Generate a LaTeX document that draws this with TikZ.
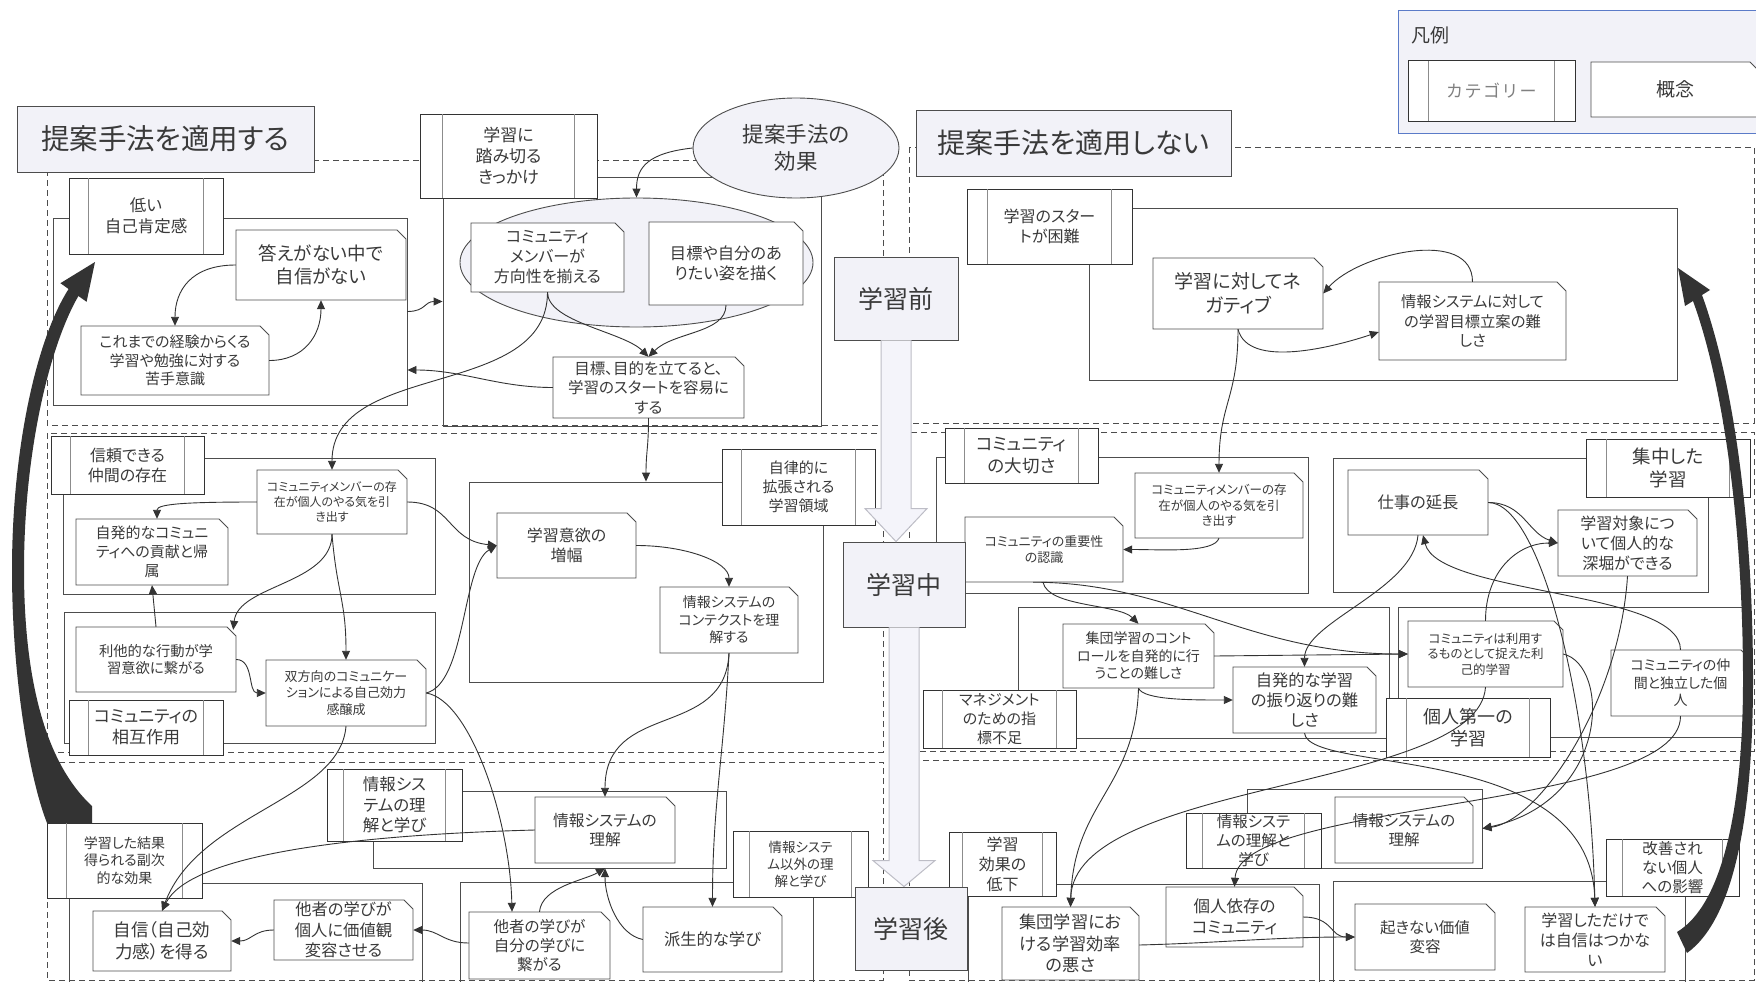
\documentclass[tikz,border=0pt]{standalone}
\usepackage{fontspec}
\setmainfont{Noto Sans CJK JP}[RawFeature=+palt]
\usetikzlibrary{arrows.meta,shapes.geometric,calc}

\definecolor{ln}{HTML}{4D4D4D}
\definecolor{txt}{HTML}{3A3A3A}
\definecolor{lav}{HTML}{F2F2F8}
\definecolor{shaft}{HTML}{F4F4FA}
\definecolor{shaftln}{HTML}{BDBDC6}
\definecolor{legln}{HTML}{5B7BC8}
\definecolor{catgray}{HTML}{8C8C8C}
\definecolor{dark}{HTML}{333333}

% font size with a 1.25 baseline
\newcommand\fsz[1]{\fontsize{#1}{\the\dimexpr #1pt*5/4\relax}\selectfont}

\tikzset{
  lane/.style={draw=ln, line width=0.9pt, dash pattern=on 6pt off 4pt},
  grp/.style={draw=ln, line width=0.9pt, rectangle, inner sep=0pt},
  cptline/.style={draw=ln, fill=white, line width=0.9pt},
  cpttext/.style={rectangle, inner sep=0pt, align=center, text=txt},
  catline/.style={draw=dark, fill=white, line width=1pt},
  catbar/.style={draw=catgray, line width=0.9pt},
  cattext/.style={rectangle, inner sep=0pt, align=center, text=txt},
  headbox/.style={rectangle, draw=ln, fill=lav, line width=0.9pt, inner sep=0pt, text=txt, align=center},
  conn/.style={draw=dark, line width=0.9pt, -{Triangle[length=9pt,width=8pt]}},
  bigarr/.style={fill=shaft, draw=shaftln, line width=1pt},
  thickarr/.style={fill=dark, draw=none},
}

% node filling the box (x1,y1)-(x2,y2)
\newcommand\place[7][]{\node[#1,minimum width={(#5-#3)*1pt},minimum height={(#6-#4)*1pt}] (#2) at ({(#3+#5)/2},{(#4+#6)/2}) {#7};}
% concept: box with a cut top-right corner
\newcommand\cpt[7][]{%
  \filldraw[cptline] (#3,#4) -- (#5-9,#4) -- (#5,#4+9) -- (#5,#6) -- (#3,#6) -- cycle;
  \place[cpttext,#1]{#2}{#3}{#4}{#5}{#6}{#7}}
% category: box with two side bars
\newcommand\cat[7][]{%
  \filldraw[catline] (#3,#4) rectangle (#5,#6);
  \draw[catbar] ({#3+(#5-#3)/8},#4) -- ({#3+(#5-#3)/8},#6) ({#5-(#5-#3)/8},#4) -- ({#5-(#5-#3)/8},#6);
  \place[cattext,#1]{#2}{#3}{#4}{#5}{#6}{#7}}

\begin{document}
\begin{tikzpicture}[x=1pt,y=-1pt]
\useasboundingbox (0,0) rectangle (1756,982);
\fill[white] (0,0) rectangle (1756,982);

% ---- swim lanes
\draw[lane] (47,160) rectangle (883,425);
\draw[lane] (909,147) rectangle (1754,423);
\draw[lane] (47,433) rectangle (883,752);
\draw[lane] (909,432) rectangle (1754,751);
\draw[lane] (47,762) rectangle (883,980);
\draw[lane] (909,760) rectangle (1754,980);

% ---- category groups
\place[grp]{gA}{53}{218}{407}{405}{}
\place[grp]{gB}{443}{177}{821}{426}{}
\place[grp]{gC}{1089}{208}{1677}{380}{}
\place[grp]{gD}{63}{458}{435}{594}{}
\place[grp]{gE}{64}{612}{435}{743}{}
\place[grp]{gF}{469}{482}{823}{682}{}
\place[grp]{gG}{936}{457}{1308}{593}{}
\place[grp]{gH}{1018}{607}{1389}{738}{}
\place[grp]{gI}{1333}{458}{1708}{592}{}
\place[grp]{gJ}{1398}{607}{1750}{737}{}
\place[grp]{gK}{69}{883}{422}{995}{}
\place[grp]{gL}{373}{791}{726}{868}{}
\place[grp]{gM}{460}{882}{813}{995}{}
\place[grp]{gN}{968}{884}{1319}{995}{}
\place[grp]{gO}{1247}{789}{1482}{868}{}
\place[grp]{gP}{1333}{881}{1685}{995}{}

\node[ellipse, draw=ln, fill=lav, line width=0.9pt, inner sep=0pt, minimum width=353pt, minimum height=129pt] (E2) at (636.5,262.5) {};

% ---- categories
\cat[font=\fsz{16.5}]{cA}{69}{178}{223}{254}{低い\\自己肯定感}
\cat[font=\fsz{17}]{cB}{420}{114}{597}{198}{学習に\\踏み切る\\きっかけ}
\cat[font=\fsz{16}]{cC}{967}{189}{1132}{264}{学習のスター\\トが困難}
\cat[font=\fsz{16}]{cD}{51}{436}{204}{494}{信頼できる\\仲間の存在}
\cat[font=\fsz{17}]{cE}{69}{700}{223}{755}{コミュニティの\\相互作用}
\cat[font=\fsz{15}]{cF}{722}{449}{875}{525}{自律的に\\拡張される\\学習領域}
\cat[font=\fsz{17.5}]{cG}{945}{428}{1098}{483}{コミュニティ\\の大切さ}
\cat[font=\fsz{15}]{cH}{923}{690}{1076}{748}{マネジメント\\のための指\\標不足}
\cat[font=\fsz{18.5}]{cI}{1586}{439}{1750}{497}{集中した\\学習}
\cat[font=\fsz{18}]{cJ}{1386}{698}{1550}{757}{個人第一の\\学習}
\cat[font=\fsz{14}]{cK}{47}{823}{202}{898}{学習した結果\\得られる副次\\的な効果}
\cat[font=\fsz{16.5}]{cL}{327}{769}{462}{841}{情報シス\\テムの理\\解と学び}
\cat[font=\fsz{13.5}]{cM}{733}{831}{868}{897}{情報システ\\ム以外の理\\解と学び}
\cat[font=\fsz{16}]{cN}{949}{832}{1056}{896}{学習\\効果の\\低下}
\cat[font=\fsz{15.5}]{cO}{1186}{813}{1321}{868}{情報システ\\ムの理解と\\学び}
\cat[font=\fsz{15.5}]{cP}{1606}{839}{1739}{896}{改善され\\ない個人\\への影響}

% ---- concepts
\cpt[font=\fsz{18.5}]{k1}{236}{230}{406}{300}{答えがない中で\\自信がない}
\cpt[font=\fsz{15}]{k2}{81}{326}{269}{395}{これまでの経験からくる\\学習や勉強に対する\\苦手意識}
\cpt[font=\fsz{16}]{k3}{471}{223}{624}{292}{コミュニティ\\メンバーが\\方向性を揃える}
\cpt[font=\fsz{16.3}]{k4}{649}{222}{803}{305}{目標や自分のあ\\りたい姿を描く}
\cpt[font=\fsz{15.5}]{k5}{553}{357}{744}{418}{目標、目的を立てると、\\学習のスタートを容易に\\する}
\cpt[font=\fsz{19}]{k6}{1153}{258}{1323}{329}{学習に対してネ\\ガティブ}
\cpt[font=\fsz{15.3}]{k7}{1379}{282}{1566}{360}{情報システムに対して\\の学習目標立案の難\\しさ}
\cpt[font=\fsz{12}]{k8}{257}{470}{407}{534}{コミュニティメンバーの存\\在が個人のやる気を引\\き出す}
\cpt[font=\fsz{15}]{k9}{76}{519}{228}{585}{自発的なコミュニ\\ティへの貢献と帰\\属}
\cpt[font=\fsz{14.3}]{k10}{76}{627}{236}{692}{利他的な行動が学\\習意欲に繋がる}
\cpt[font=\fsz{13}]{k11}{266}{660}{426}{726}{双方向のコミュニケー\\ションによる自己効力\\感醸成}
\cpt[font=\fsz{16}]{k12}{497}{513}{636}{578}{学習意欲の\\増幅}
\cpt[font=\fsz{14}]{k13}{660}{587}{798}{653}{情報システムの\\コンテクストを理\\解する}
\cpt[font=\fsz{12.5}]{k14}{1135}{473}{1303}{538}{コミュニティメンバーの存\\在が個人のやる気を引\\き出す}
\cpt[font=\fsz{13}]{k15}{965}{517}{1123}{582}{コミュニティの重要性\\の認識}
\cpt[font=\fsz{14}]{k16}{1063}{624}{1214}{688}{集団学習のコント\\ロールを自発的に行\\うことの難しさ}
\cpt[font=\fsz{16.3}]{k17}{1233}{667}{1376}{733}{自発的な学習\\の振り返りの難\\しさ}
\cpt[font=\fsz{16.3}]{k18}{1348}{470}{1488}{535}{仕事の延長}
\cpt[font=\fsz{16}]{k19}{1558}{510}{1697}{576}{学習対象につ\\いて個人的な\\深堀ができる}
\cpt[font=\fsz{12.5}]{k20}{1408}{621}{1563}{687}{コミュニティは利用す\\るものとして捉えた利\\己的学習}
\cpt[font=\fsz{14}]{k21}{1611}{650}{1750}{716}{コミュニティの仲\\間と独立した個\\人}
\cpt[font=\fsz{17.5}]{k22}{93}{911}{231}{971}{自信（自己効\\力感）を得る}
\cpt[font=\fsz{16.3}]{k23}{274}{900}{413}{960}{他者の学びが\\個人に価値観\\変容させる}
\cpt[font=\fsz{15.7}]{k24}{535}{797}{675}{863}{情報システムの\\理解}
\cpt[font=\fsz{15.5}]{k25}{469}{912}{610}{979}{他者の学びが\\自分の学びに\\繋がる}
\cpt[font=\fsz{16.3}]{k26}{643}{907}{782}{972}{派生的な学び}
\cpt[font=\fsz{17.2}]{k27}{1002}{907}{1139}{980}{集団学習にお\\ける学習効率\\の悪さ}
\cpt[font=\fsz{16.5}]{k28}{1166}{887}{1303}{947}{個人依存の\\コミュニティ}
\cpt[font=\fsz{15.5}]{k29}{1335}{797}{1473}{863}{情報システムの\\理解}
\cpt[font=\fsz{15.5}]{k30}{1355}{904}{1495}{970}{起きない価値\\変容}
\cpt[font=\fsz{16}]{k31}{1525}{907}{1665}{972}{学習しただけで\\は自信はつかな\\い}

% ---- headings and phases
\place[headbox,font=\fsz{28.5}]{T1}{17}{106}{314}{172}{提案手法を適用する}
\place[headbox,font=\fsz{28}]{T2}{916}{110}{1231}{176}{提案手法を適用しない}
\place[headbox,font=\fsz{25}]{P1}{834}{257}{958}{340}{学習前}
\place[headbox,font=\fsz{25}]{P2}{843}{542}{965}{627}{学習中}
\place[headbox,font=\fsz{25}]{P3}{855}{887}{967}{970}{学習後}
\node[ellipse, draw=ln, fill=lav, line width=0.9pt, inner sep=0pt, minimum width=206pt, minimum height=100pt, align=center, text=txt, font=\fsz{21.5}] (E1) at (796,148) {提案手法の\\効果};

% ---- phase arrows
\filldraw[bigarr] let \p1=(P1.south), \p2=(P2.north) in
  (\x1-15pt,\y1) -- (\x1-15pt,\y2+33pt) -- (\x1-31pt,\y2+33pt) -- (\x1,\y2)
  -- (\x1+31pt,\y2+33pt) -- (\x1+15pt,\y2+33pt) -- (\x1+15pt,\y1);
\filldraw[bigarr] let \p1=(P2.south), \p2=(P3.north) in
  (\x1-15pt,\y1) -- (\x1-15pt,\y2+26pt) -- (\x1-31pt,\y2+26pt) -- (\x1,\y2)
  -- (\x1+31pt,\y2+26pt) -- (\x1+15pt,\y2+26pt) -- (\x1+15pt,\y1);

% ---- legend
\filldraw[draw=legln, fill=lav, line width=1pt] (1398,11) rectangle (1775,133);
\node[anchor=west, text=txt, font=\fsz{19}, inner sep=0pt] (legtitle) at (1411,35) {凡例};
\cat[font=\fsz{17},text=gray]{legcat}{1408}{61}{1575}{121}{カ\hspace{3pt}テ\hspace{3pt}ゴ\hspace{3pt}リ\hspace{3pt}ー}
\cpt[font=\fsz{19}]{legcpt}{1591}{62}{1759}{117}{概念}

% ---- connectors: before, proposed method
\draw[conn] (k1.west) .. controls +(-45,0) and +(0,-35) .. (k2.north);
\draw[conn] (k2.east) .. controls +(35,0) and +(0,35) .. (k1.south);
\draw[conn] (gA.east) .. controls +(18,0) and +(-18,0) .. (gB.west);
\draw[conn] (E1.west) .. controls +(-45,5) and +(0,-30) .. (E2.north);
\draw[conn] (k3.south) .. controls +(0,30) and +(-25,-25) .. (k5.north);
\draw[conn] (k4.south) .. controls +(0,28) and +(25,-25) .. (k5.north);
\draw[conn] (k5.west) .. controls +(-55,0) and +(55,0) .. ([yshift=-58.5pt]gA.east);
\draw[conn] (k3.south) .. controls +(0,108) and +(0,-110) .. (k8.north);
\draw[conn] (k5.south) .. controls +(0,30) and +(0,-30) .. (gF.north);

% ---- connectors: before, without the method
\draw[conn] (k7.north) .. controls +(0,-55) and +(35,-40) .. (k6.east);
\draw[conn] (k6.south) .. controls +(10,40) and +(-45,15) .. ([yshift=-11pt]k7.west);
\draw[conn] (k6.south) .. controls +(0,70) and +(0,-70) .. (k14.north);

% ---- connectors: during, proposed method
\draw[conn] (k8.west) .. controls +(-70,0) and +(0,-15) .. ([xshift=5pt]k9.north);
\draw[conn] (k8.south) .. controls +(0,50) and +(5,-45) .. ([xshift=-3pt,yshift=-3pt]k10.north east);
\draw[conn] (k8.south) .. controls +(5,60) and +(0,-60) .. (k11.north);
\draw[conn] (k10.north) -- (k9.south);
\draw[conn] (k10.east) .. controls +(18,0) and +(-18,0) .. (k11.west);
\draw[conn] (k8.east) .. controls +(45,0) and +(-50,-5) .. (k12.west);
\draw[conn] (k11.east) .. controls +(40,-10) and +(-35,20) .. (k12.west);
\draw[conn] (k12.east) .. controls +(50,0) and +(0,-25) .. (k13.north);
\draw[conn] (k13.south) .. controls +(-4,87) and +(0,-97) .. (k24.north);
\draw[conn] (k13.south) .. controls +(-5,100) and +(0,-100) .. (k26.north);

% ---- connectors: during, without the method
\draw[conn] (k14.south) .. controls +(-5,15) and +(40,0) .. (k15.east);
\draw[conn] ([xshift=-1pt]k15.south) .. controls +(5,25) and +(-20,-20) .. (k16.north);
\draw[conn] ([xshift=-11pt]k15.south) .. controls +(140,0) and +(-160,0) .. (k20.west);
\draw[conn] (k16.east) -- (k20.west);
\draw[conn] (k16.south) .. controls +(5,12) and +(-40,0) .. (k17.west);
\draw[conn] (k16.south) .. controls +(-3,100) and +(3,-105) .. (k27.north);
\draw[conn] (k18.south) .. controls +(-5,55) and +(0,-45) .. (k17.north);
\draw[conn] (k21.north) .. controls +(0,-60) and +(15,60) .. ([xshift=5pt]k18.south);
\draw[conn] (k18.east) .. controls +(35,0) and +(-30,-10) .. (k19.west);
\draw[conn] (k18.east) .. controls +(52,0) and +(-5,-207) .. (k31.north);
\draw[conn] (k20.north) .. controls +(0,-50) and +(-40,0) .. (k19.west);
\draw[conn] (k19.south) .. controls +(-8,124) and +(58,-8) .. (gO.east);
\draw[conn] (k20.east) .. controls +(47,11) and +(128,-28) .. (gO.east);
\draw[conn] (k17.south) .. controls +(5,42) and +(-5,-167) .. (k31.north);
\draw[conn] (k20.south) .. controls +(-7,103) and +(3,-127) .. (k27.north);
\draw[conn] (k21.south) .. controls +(0,94) and +(5,-87) .. (k28.north);

% ---- connectors: after
\draw[conn] ([yshift=-1.5pt]k27.east) .. controls +(80,-2) and +(-80,0) .. (k30.west);
\draw[conn] (k28.east) .. controls +(30,0) and +(-25,0) .. (k30.west);
\draw[conn] (k11.east) .. controls +(44,7) and +(-2,-92) .. ([xshift=-27.5pt]k25.north);
\draw[conn] (k11.south) .. controls +(-6,74) and +(37,-98) .. (k22.north);
\draw[conn] (k24.west) .. controls +(-185,5) and +(28,-56) .. (k22.north);
\draw[conn] (k23.west) .. controls +(-20,0) and +(20,0) .. (k22.east);
\draw[conn] ([yshift=2.5pt]k25.west) .. controls +(-25,0) and +(25,0) .. (k23.east);
\draw[conn] (k25.north) .. controls +(2,-25) and +(-20,12) .. ([yshift=-5pt]k24.south);
\draw[conn] (k26.west) .. controls +(-25,-5) and +(0,30) .. ([yshift=-5pt]k24.south);

% ---- heavy feedback arrows
\fill[thickarr] (47,823) .. controls (30,780) and (12,680) .. (12,570)
  .. controls (12,450) and (36,340) .. (68.6,289) -- (60.4,283.2) -- (95,262)
  -- (86.6,301.8) -- (78.4,296) .. controls (50,345) and (24,450) .. (24,570)
  .. controls (24,670) and (42,760) .. (92,806) -- (92,823) -- cycle;
\fill[thickarr] (1687,953) .. controls (1733,920) and (1753,820) .. (1753,680)
  .. controls (1753,520) and (1733,380) .. (1702,295) -- (1710,290) -- (1678,268)
  -- (1685,306) -- (1693,301) .. controls (1722,380) and (1743,520) .. (1743,680)
  .. controls (1743,810) and (1722,905) .. (1677,932) -- cycle;
\end{tikzpicture}
\end{document}
